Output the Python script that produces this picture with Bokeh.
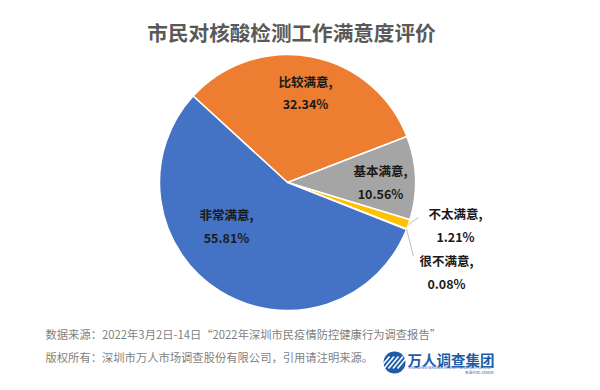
import math
from bokeh.plotting import figure
from bokeh.models import Range1d
from bokeh.core.properties import value
from bokeh.embed import file_html
from bokeh.resources import INLINE

# ---- data ----
categories = ["比较满意", "基本满意", "不太满意", "很不满意", "非常满意"]
percents = [32.34, 10.56, 1.21, 0.08, 55.81]
colors = ["#ED7D31", "#A5A5A5", "#FFC000", "#5B9BD5", "#4472C4"]
title_text = "市民对核酸检测工作满意度评价"
source_line = "数据来源：2022年3月2日-14日“2022年深圳市民疫情防控健康行为调查报告”"
copyright_line = "版权所有：深圳市万人市场调查股份有限公司，引用请注明来源。"

# ---- layout (screen-like coords: x right, y measured from top) ----
W, H = 584, 374
FONT = value("Noto Sans CJK SC")
cx, R = 287.0, 128.0
start_deg = 137.5  # first slice starts here and goes clockwise

def sy(y):
    return H - y

cy = sy(182.0)

p = figure(width=W, height=H, x_range=Range1d(0, W), y_range=Range1d(0, H),
           output_backend="svg", toolbar_location=None, min_border=0)
p.axis.visible = False
p.grid.visible = False
p.outline_line_color = None
p.background_fill_color = "white"
p.border_fill_color = "white"

total = sum(percents)
starts, ends, mids = [], [], []
a = math.radians(start_deg)
for v in percents:
    span = 2 * math.pi * v / total
    starts.append(a)
    ends.append(a - span)
    mids.append(a - span / 2)
    a -= span

p.wedge(x=[cx] * len(percents), y=[cy] * len(percents), radius=R,
        start_angle=starts, end_angle=ends, direction="clock",
        fill_color=colors, line_color="white", line_width=1.5)

# title
p.text(x=[291], y=[sy(31)], text=[title_text], text_font=FONT, text_font_size="20.6px",
       text_font_style="bold", text_color="#595959", text_align="center", text_baseline="middle")

# data labels (name line + value line), positions per label
label_pos = [(305, 81, 103), (380, 170, 193), (455, 213, 236), (446, 260, 283), (226, 214, 237)]
for name, v, (lx, y1, y2) in zip(categories, percents, label_pos):
    p.text(x=[lx], y=[sy(y1)], text=[name + ","], text_font=FONT, text_font_size="12.5px",
           text_font_style="bold", text_color="#1a1a1a", text_align="center", text_baseline="middle")
    p.text(x=[lx], y=[sy(y2)], text=["%.2f%%" % v], text_font=FONT, text_font_size="12.5px",
           text_font_style="bold", text_color="#1a1a1a", text_align="center", text_baseline="middle")

# leader lines for small slices
m2, m3 = mids[2], mids[3]
p.segment(x0=[cx + R * math.cos(m2)], y0=[cy + R * math.sin(m2)],
          x1=[418], y1=[sy(217)], line_color="#BFBFBF", line_width=1)
p.segment(x0=[cx + R * math.cos(m3)], y0=[cy + R * math.sin(m3)],
          x1=[413], y1=[sy(256)], line_color="#BFBFBF", line_width=1)

# footer
p.text(x=[45], y=[sy(333)], text=[source_line], text_font=FONT, text_font_size="11.3px",
       text_color="#7F7F7F", text_align="left", text_baseline="middle")
p.text(x=[45], y=[sy(356)], text=[copyright_line], text_font=FONT, text_font_size="11.3px",
       text_color="#7F7F7F", text_align="left", text_baseline="middle")

# logo
blue = "#1F5CA8"
p.scatter(x=[394], y=[sy(362)], size=22, marker="circle", fill_color=blue, line_color=None)
for k in range(-2, 3):
    off = k * 4.5
    p.segment(x0=[388 + off], y0=[sy(368)], x1=[398 + off], y1=[sy(356)],
              line_color="white", line_width=1.6)
p.text(x=[407], y=[sy(359)], text=["万人调查集团"], text_font=FONT, text_font_size="14.5px",
       text_font_style="bold", text_color=blue, text_align="left", text_baseline="middle")
p.text(x=[408], y=[sy(367)], text=["SHENZHEN WANREN MARKET RESEARCH CO.,LTD."], text_font=FONT,
       text_font_size="3.6px", text_color=blue, text_align="left", text_baseline="middle")
p.text(x=[493], y=[sy(372)], text=["股票代码: 430459"], text_font=FONT,
       text_font_size="3.6px", text_color=blue, text_align="right", text_baseline="middle")

open("out.html", "w").write(file_html(p, INLINE))
